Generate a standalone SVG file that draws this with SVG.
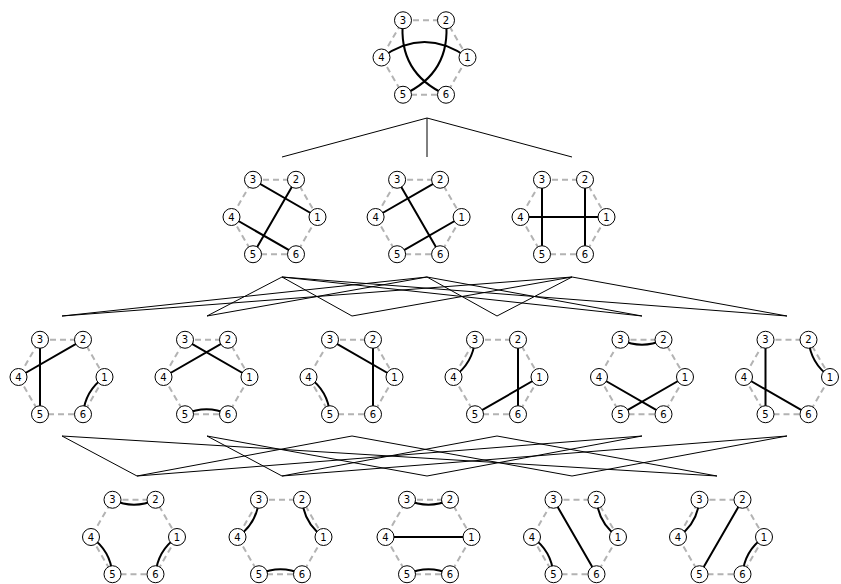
<svg xmlns="http://www.w3.org/2000/svg" xmlns:xlink="http://www.w3.org/1999/xlink" width="841" height="584" viewBox="0 0 841 584">
<style>
.hex{fill:none;stroke:#b3b3b3;stroke-width:2;stroke-dasharray:6 4}
.e{fill:none;stroke:#000;stroke-width:2}
.n circle{fill:#fff;stroke:#000;stroke-width:1}
.n text{font-family:"DejaVu Sans",sans-serif;font-size:10px;text-anchor:middle;dominant-baseline:central;fill:#000}
.c{fill:none;stroke:#000;stroke-width:1}
</style>
<defs>
<path id="hex" class="hex" d="M43,0 L21.5,-37.24 L-21.5,-37.24 L-43,0 L-21.5,37.24 L21.5,37.24 Z"/>
</defs>
<rect width="841" height="584" fill="#fff"/>
<g id="connectors">
<path class="c" d="M427,118 L282,157 M427,118 L427,157 M427,118 L572,157"/>
<path class="c" d="M282,277 L207,316 M282,277 L352,316 M282,277 L642,316 M282,277 L787,316 M427,277 L62,316 M427,277 L207,316 M427,277 L497,316 M427,277 L642,316 M572,277 L62,316 M572,277 L352,316 M572,277 L497,316 M572,277 L787,316"/>
<path class="c" d="M62,436 L137,476 M62,436 L717,476 M207,436 L282,476 M207,436 L427,476 M352,436 L572,476 M352,436 L137,476 M497,436 L282,476 M497,436 L717,476 M642,436 L427,476 M642,436 L137,476 M787,436 L282,476 M787,436 L572,476"/>
</g>

<g id="top" transform="translate(424.5,57.5)">
<use xlink:href="#hex" href="#hex"/>
<path class="e" d="M-43,0 Q0,-31 43,0 M-21.5,-37.24 Q-26.85,15.5 21.5,37.24 M21.5,-37.24 Q26.85,15.5 -21.5,37.24"/>
<g class="n">
<circle cx="43" cy="0" r="8.5"/><text x="43" y="0">1</text>
<circle cx="21.5" cy="-37.24" r="8.5"/><text x="21.5" y="-37.24">2</text>
<circle cx="-21.5" cy="-37.24" r="8.5"/><text x="-21.5" y="-37.24">3</text>
<circle cx="-43" cy="0" r="8.5"/><text x="-43" y="0">4</text>
<circle cx="-21.5" cy="37.24" r="8.5"/><text x="-21.5" y="37.24">5</text>
<circle cx="21.5" cy="37.24" r="8.5"/><text x="21.5" y="37.24">6</text>
</g>
</g>

<g id="a" transform="translate(274.5,217)">
<use xlink:href="#hex" href="#hex"/>
<path class="e" d="M-21.5,-37.24 L43,0 M21.5,-37.24 L-21.5,37.24 M-43,0 L21.5,37.24"/>
<g class="n">
<circle cx="43" cy="0" r="8.5"/><text x="43" y="0">1</text>
<circle cx="21.5" cy="-37.24" r="8.5"/><text x="21.5" y="-37.24">2</text>
<circle cx="-21.5" cy="-37.24" r="8.5"/><text x="-21.5" y="-37.24">3</text>
<circle cx="-43" cy="0" r="8.5"/><text x="-43" y="0">4</text>
<circle cx="-21.5" cy="37.24" r="8.5"/><text x="-21.5" y="37.24">5</text>
<circle cx="21.5" cy="37.24" r="8.5"/><text x="21.5" y="37.24">6</text>
</g>
</g>

<g id="b" transform="translate(418.6,217)">
<use xlink:href="#hex" href="#hex"/>
<path class="e" d="M21.5,-37.24 L-43,0 M-21.5,-37.24 L21.5,37.24 M43,0 L-21.5,37.24"/>
<g class="n">
<circle cx="43" cy="0" r="8.5"/><text x="43" y="0">1</text>
<circle cx="21.5" cy="-37.24" r="8.5"/><text x="21.5" y="-37.24">2</text>
<circle cx="-21.5" cy="-37.24" r="8.5"/><text x="-21.5" y="-37.24">3</text>
<circle cx="-43" cy="0" r="8.5"/><text x="-43" y="0">4</text>
<circle cx="-21.5" cy="37.24" r="8.5"/><text x="-21.5" y="37.24">5</text>
<circle cx="21.5" cy="37.24" r="8.5"/><text x="21.5" y="37.24">6</text>
</g>
</g>

<g id="c" transform="translate(563.5,217)">
<use xlink:href="#hex" href="#hex"/>
<path class="e" d="M-21.5,-37.24 L-21.5,37.24 M21.5,-37.24 L21.5,37.24 M-43,0 L43,0"/>
<g class="n">
<circle cx="43" cy="0" r="8.5"/><text x="43" y="0">1</text>
<circle cx="21.5" cy="-37.24" r="8.5"/><text x="21.5" y="-37.24">2</text>
<circle cx="-21.5" cy="-37.24" r="8.5"/><text x="-21.5" y="-37.24">3</text>
<circle cx="-43" cy="0" r="8.5"/><text x="-43" y="0">4</text>
<circle cx="-21.5" cy="37.24" r="8.5"/><text x="-21.5" y="37.24">5</text>
<circle cx="21.5" cy="37.24" r="8.5"/><text x="21.5" y="37.24">6</text>
</g>
</g>

<g id="d1" transform="translate(61.5,377)">
<use xlink:href="#hex" href="#hex"/>
<path class="e" d="M21.5,-37.24 L-43,0 M-21.5,-37.24 L-21.5,37.24 M43,0 Q23.59,13.62 21.5,37.24"/>
<g class="n">
<circle cx="43" cy="0" r="8.5"/><text x="43" y="0">1</text>
<circle cx="21.5" cy="-37.24" r="8.5"/><text x="21.5" y="-37.24">2</text>
<circle cx="-21.5" cy="-37.24" r="8.5"/><text x="-21.5" y="-37.24">3</text>
<circle cx="-43" cy="0" r="8.5"/><text x="-43" y="0">4</text>
<circle cx="-21.5" cy="37.24" r="8.5"/><text x="-21.5" y="37.24">5</text>
<circle cx="21.5" cy="37.24" r="8.5"/><text x="21.5" y="37.24">6</text>
</g>
</g>

<g id="d2" transform="translate(206.5,377)">
<use xlink:href="#hex" href="#hex"/>
<path class="e" d="M-21.5,-37.24 L43,0 M21.5,-37.24 L-43,0 M-21.5,37.24 Q0,27.24 21.5,37.24"/>
<g class="n">
<circle cx="43" cy="0" r="8.5"/><text x="43" y="0">1</text>
<circle cx="21.5" cy="-37.24" r="8.5"/><text x="21.5" y="-37.24">2</text>
<circle cx="-21.5" cy="-37.24" r="8.5"/><text x="-21.5" y="-37.24">3</text>
<circle cx="-43" cy="0" r="8.5"/><text x="-43" y="0">4</text>
<circle cx="-21.5" cy="37.24" r="8.5"/><text x="-21.5" y="37.24">5</text>
<circle cx="21.5" cy="37.24" r="8.5"/><text x="21.5" y="37.24">6</text>
</g>
</g>

<g id="d3" transform="translate(351.5,377)">
<use xlink:href="#hex" href="#hex"/>
<path class="e" d="M-21.5,-37.24 L43,0 M21.5,-37.24 L21.5,37.24 M-43,0 Q-23.59,13.62 -21.5,37.24"/>
<g class="n">
<circle cx="43" cy="0" r="8.5"/><text x="43" y="0">1</text>
<circle cx="21.5" cy="-37.24" r="8.5"/><text x="21.5" y="-37.24">2</text>
<circle cx="-21.5" cy="-37.24" r="8.5"/><text x="-21.5" y="-37.24">3</text>
<circle cx="-43" cy="0" r="8.5"/><text x="-43" y="0">4</text>
<circle cx="-21.5" cy="37.24" r="8.5"/><text x="-21.5" y="37.24">5</text>
<circle cx="21.5" cy="37.24" r="8.5"/><text x="21.5" y="37.24">6</text>
</g>
</g>

<g id="d4" transform="translate(496.5,377)">
<use xlink:href="#hex" href="#hex"/>
<path class="e" d="M-21.5,-37.24 Q-23.59,-13.62 -43,0 M21.5,-37.24 L21.5,37.24 M43,0 L-21.5,37.24"/>
<g class="n">
<circle cx="43" cy="0" r="8.5"/><text x="43" y="0">1</text>
<circle cx="21.5" cy="-37.24" r="8.5"/><text x="21.5" y="-37.24">2</text>
<circle cx="-21.5" cy="-37.24" r="8.5"/><text x="-21.5" y="-37.24">3</text>
<circle cx="-43" cy="0" r="8.5"/><text x="-43" y="0">4</text>
<circle cx="-21.5" cy="37.24" r="8.5"/><text x="-21.5" y="37.24">5</text>
<circle cx="21.5" cy="37.24" r="8.5"/><text x="21.5" y="37.24">6</text>
</g>
</g>

<g id="d5" transform="translate(642,377)">
<use xlink:href="#hex" href="#hex"/>
<path class="e" d="M-21.5,-37.24 Q0,-27.24 21.5,-37.24 M-43,0 L21.5,37.24 M43,0 L-21.5,37.24"/>
<g class="n">
<circle cx="43" cy="0" r="8.5"/><text x="43" y="0">1</text>
<circle cx="21.5" cy="-37.24" r="8.5"/><text x="21.5" y="-37.24">2</text>
<circle cx="-21.5" cy="-37.24" r="8.5"/><text x="-21.5" y="-37.24">3</text>
<circle cx="-43" cy="0" r="8.5"/><text x="-43" y="0">4</text>
<circle cx="-21.5" cy="37.24" r="8.5"/><text x="-21.5" y="37.24">5</text>
<circle cx="21.5" cy="37.24" r="8.5"/><text x="21.5" y="37.24">6</text>
</g>
</g>

<g id="d6" transform="translate(787,377)">
<use xlink:href="#hex" href="#hex"/>
<path class="e" d="M-21.5,-37.24 L-21.5,37.24 M-43,0 L21.5,37.24 M21.5,-37.24 Q23.59,-13.62 43,0"/>
<g class="n">
<circle cx="43" cy="0" r="8.5"/><text x="43" y="0">1</text>
<circle cx="21.5" cy="-37.24" r="8.5"/><text x="21.5" y="-37.24">2</text>
<circle cx="-21.5" cy="-37.24" r="8.5"/><text x="-21.5" y="-37.24">3</text>
<circle cx="-43" cy="0" r="8.5"/><text x="-43" y="0">4</text>
<circle cx="-21.5" cy="37.24" r="8.5"/><text x="-21.5" y="37.24">5</text>
<circle cx="21.5" cy="37.24" r="8.5"/><text x="21.5" y="37.24">6</text>
</g>
</g>

<g id="e1" transform="translate(134,537)">
<use xlink:href="#hex" href="#hex"/>
<path class="e" d="M-21.5,-37.24 Q0,-27.24 21.5,-37.24 M-43,0 Q-23.59,13.62 -21.5,37.24 M43,0 Q23.59,13.62 21.5,37.24"/>
<g class="n">
<circle cx="43" cy="0" r="8.5"/><text x="43" y="0">1</text>
<circle cx="21.5" cy="-37.24" r="8.5"/><text x="21.5" y="-37.24">2</text>
<circle cx="-21.5" cy="-37.24" r="8.5"/><text x="-21.5" y="-37.24">3</text>
<circle cx="-43" cy="0" r="8.5"/><text x="-43" y="0">4</text>
<circle cx="-21.5" cy="37.24" r="8.5"/><text x="-21.5" y="37.24">5</text>
<circle cx="21.5" cy="37.24" r="8.5"/><text x="21.5" y="37.24">6</text>
</g>
</g>

<g id="e2" transform="translate(280.5,537)">
<use xlink:href="#hex" href="#hex"/>
<path class="e" d="M-21.5,-37.24 Q-23.59,-13.62 -43,0 M21.5,-37.24 Q23.59,-13.62 43,0 M-21.5,37.24 Q0,27.24 21.5,37.24"/>
<g class="n">
<circle cx="43" cy="0" r="8.5"/><text x="43" y="0">1</text>
<circle cx="21.5" cy="-37.24" r="8.5"/><text x="21.5" y="-37.24">2</text>
<circle cx="-21.5" cy="-37.24" r="8.5"/><text x="-21.5" y="-37.24">3</text>
<circle cx="-43" cy="0" r="8.5"/><text x="-43" y="0">4</text>
<circle cx="-21.5" cy="37.24" r="8.5"/><text x="-21.5" y="37.24">5</text>
<circle cx="21.5" cy="37.24" r="8.5"/><text x="21.5" y="37.24">6</text>
</g>
</g>

<g id="e3" transform="translate(428.5,537)">
<use xlink:href="#hex" href="#hex"/>
<path class="e" d="M-21.5,-37.24 Q0,-27.24 21.5,-37.24 M-43,0 L43,0 M-21.5,37.24 Q0,27.24 21.5,37.24"/>
<g class="n">
<circle cx="43" cy="0" r="8.5"/><text x="43" y="0">1</text>
<circle cx="21.5" cy="-37.24" r="8.5"/><text x="21.5" y="-37.24">2</text>
<circle cx="-21.5" cy="-37.24" r="8.5"/><text x="-21.5" y="-37.24">3</text>
<circle cx="-43" cy="0" r="8.5"/><text x="-43" y="0">4</text>
<circle cx="-21.5" cy="37.24" r="8.5"/><text x="-21.5" y="37.24">5</text>
<circle cx="21.5" cy="37.24" r="8.5"/><text x="21.5" y="37.24">6</text>
</g>
</g>

<g id="e4" transform="translate(575,537)">
<use xlink:href="#hex" href="#hex"/>
<path class="e" d="M-21.5,-37.24 L21.5,37.24 M21.5,-37.24 Q23.59,-13.62 43,0 M-43,0 Q-23.59,13.62 -21.5,37.24"/>
<g class="n">
<circle cx="43" cy="0" r="8.5"/><text x="43" y="0">1</text>
<circle cx="21.5" cy="-37.24" r="8.5"/><text x="21.5" y="-37.24">2</text>
<circle cx="-21.5" cy="-37.24" r="8.5"/><text x="-21.5" y="-37.24">3</text>
<circle cx="-43" cy="0" r="8.5"/><text x="-43" y="0">4</text>
<circle cx="-21.5" cy="37.24" r="8.5"/><text x="-21.5" y="37.24">5</text>
<circle cx="21.5" cy="37.24" r="8.5"/><text x="21.5" y="37.24">6</text>
</g>
</g>

<g id="e5" transform="translate(721,537)">
<use xlink:href="#hex" href="#hex"/>
<path class="e" d="M-21.5,-37.24 Q-23.59,-13.62 -43,0 M21.5,-37.24 L-21.5,37.24 M43,0 Q23.59,13.62 21.5,37.24"/>
<g class="n">
<circle cx="43" cy="0" r="8.5"/><text x="43" y="0">1</text>
<circle cx="21.5" cy="-37.24" r="8.5"/><text x="21.5" y="-37.24">2</text>
<circle cx="-21.5" cy="-37.24" r="8.5"/><text x="-21.5" y="-37.24">3</text>
<circle cx="-43" cy="0" r="8.5"/><text x="-43" y="0">4</text>
<circle cx="-21.5" cy="37.24" r="8.5"/><text x="-21.5" y="37.24">5</text>
<circle cx="21.5" cy="37.24" r="8.5"/><text x="21.5" y="37.24">6</text>
</g>
</g>
</svg>
